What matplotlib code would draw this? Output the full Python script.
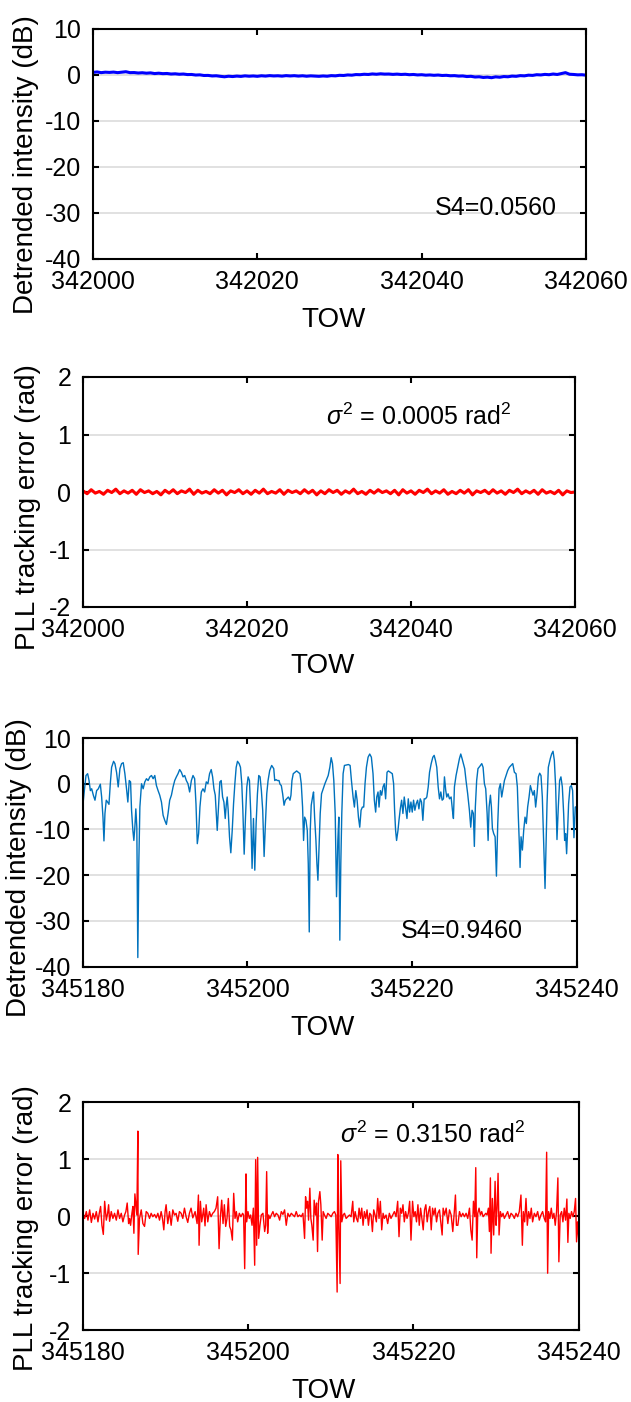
import numpy as np
import matplotlib
matplotlib.use("Agg")
import matplotlib.pyplot as plt

plt.rcParams['font.family'] = ['Liberation Sans', 'DejaVu Sans']
plt.rcParams['mathtext.fontset'] = 'custom'
plt.rcParams['mathtext.rm'] = 'Liberation Sans'
plt.rcParams['mathtext.it'] = 'Liberation Sans:italic'

# ---------------- data ----------------
# Panel 1/2 : quiet period, TOW 342000..342060 (offsets in s)
quiet_base = 342000
quiet_t = [0, 0.5, 1, 1.5, 2, 2.5, 3, 3.5, 4, 4.5, 5, 5.5, 6, 6.5, 7, 7.5, 8, 8.5, 9, 9.5,
           10, 10.5, 11, 11.5, 12, 12.5, 13, 13.5, 14, 14.5, 15, 15.5, 16, 16.5, 17, 17.5, 18, 18.5, 19, 19.5,
           20, 20.5, 21, 21.5, 22, 22.5, 23, 23.5, 24, 24.5, 25, 25.5, 26, 26.5, 27, 27.5, 28, 28.5, 29, 29.5,
           30, 30.5, 31, 31.5, 32, 32.5, 33, 33.5, 34, 34.5, 35, 35.5, 36, 36.5, 37, 37.5, 38, 38.5, 39, 39.5,
           40, 40.5, 41, 41.5, 42, 42.5, 43, 43.5, 44, 44.5, 45, 45.5, 46, 46.5, 47, 47.5, 48, 48.5, 49, 49.5,
           50, 50.5, 51, 51.5, 52, 52.5, 53, 53.5, 54, 54.5, 55, 55.5, 56, 56.5, 57, 57.5, 58, 58.5, 59, 59.5, 60]
quiet_intensity = [0.55, 0.65, 0.5, 0.6, 0.55, 0.62, 0.5, 0.6, 0.7, 0.5,
                   0.52, 0.42, 0.48, 0.38, 0.45, 0.3, 0.38, 0.28, 0.32, 0.2,
                   0.25, 0.15, 0.2, 0.08, 0.1, -0.02, 0.02, -0.12, -0.1, -0.22,
                   -0.18, -0.3, -0.4, -0.28, -0.35, -0.25, -0.32, -0.2, -0.28, -0.22,
                   -0.3, -0.18, -0.25, -0.15, -0.22, -0.18, -0.26, -0.15, -0.22, -0.16,
                   -0.25, -0.18, -0.28, -0.2, -0.25, -0.3, -0.22, -0.28, -0.15, -0.2,
                   -0.08, -0.12, 0.0, -0.05, 0.08, 0.05, 0.15, 0.1, 0.22, 0.15,
                   0.25, 0.18, 0.2, 0.12, 0.18, 0.1, 0.15, 0.05, 0.1, 0.0,
                   0.05, -0.05, 0.0, -0.08, -0.02, -0.12, -0.08, -0.18, -0.15, -0.25,
                   -0.22, -0.35, -0.3, -0.45, -0.4, -0.55, -0.48, -0.6, -0.42, -0.5,
                   -0.35, -0.4, -0.25, -0.3, -0.15, -0.2, -0.05, -0.1, 0.05, 0.0,
                   0.12, 0.05, 0.2, 0.1, 0.3, 0.5, 0.15, 0.1, 0.02, 0.05, -0.05]
quiet_pll = [0.02, -0.03, 0.04, -0.02, 0.01, -0.04, 0.03, -0.01, 0.05, -0.03,
             0.02, -0.02, 0.03, -0.04, 0.04, -0.01, 0.02, -0.03, 0.01, -0.05,
             0.03, -0.02, 0.04, -0.03, 0.02, -0.01, 0.05, -0.04, 0.03, -0.02,
             0.01, -0.03, 0.04, -0.02, 0.03, -0.05, 0.02, -0.01, 0.04, -0.03,
             0.02, -0.04, 0.03, -0.02, 0.05, -0.03, 0.01, -0.02, 0.04, -0.04,
             0.03, -0.01, 0.02, -0.03, 0.04, -0.02, 0.03, -0.05, 0.02, -0.03,
             0.04, -0.01, 0.03, -0.04, 0.02, -0.02, 0.05, -0.03, 0.01, -0.04,
             0.03, -0.02, 0.04, -0.01, 0.02, -0.03, 0.03, -0.05, 0.04, -0.02,
             0.02, -0.04, 0.03, -0.01, 0.05, -0.03, 0.02, -0.02, 0.04, -0.04,
             0.01, -0.03, 0.03, -0.02, 0.04, -0.05, 0.02, -0.01, 0.03, -0.03,
             0.04, -0.02, 0.02, -0.04, 0.03, -0.01, 0.05, -0.03, 0.02, -0.02,
             0.03, -0.04, 0.04, -0.02, 0.01, -0.03, 0.03, -0.05, 0.02, -0.01, 0.0]

# Panel 3 : scintillating intensity, TOW 345180..345240 (offsets in s)
scint_base = 345180
scint_t = [0.00, 0.20, 0.40, 0.60, 0.77, 0.93, 1.09, 1.29, 1.49, 1.69, 1.90, 2.14, 2.30, 2.46, 2.58, 2.70,
           2.86, 3.02, 3.19, 3.35, 3.51, 3.75, 3.91, 4.11, 4.31, 4.52, 4.72, 4.92, 5.12, 5.32, 5.48, 5.65,
           5.81, 5.93, 6.09, 6.21, 6.33, 6.45, 6.57, 6.69, 6.81, 6.94, 7.14, 7.34, 7.54, 7.74, 7.94, 8.15,
           8.35, 8.55, 8.75, 8.95, 9.15, 9.35, 9.56, 9.76, 9.96, 10.16, 10.36, 10.56, 10.77, 10.97, 11.17,
           11.37, 11.57, 11.77, 11.98, 12.18, 12.38, 12.58, 12.78, 12.98, 13.19, 13.39, 13.59, 13.75, 13.91,
           14.07, 14.23, 14.40, 14.60, 14.80, 15.00, 15.20, 15.40, 15.60, 15.77, 15.93, 16.09, 16.21, 16.33,
           16.49, 16.65, 16.81, 16.98, 17.14, 17.30, 17.42, 17.54, 17.66, 17.82, 17.98, 18.15, 18.31, 18.47,
           18.63, 18.79, 18.99, 19.15, 19.31, 19.44, 19.60, 19.76, 19.92, 20.08, 20.24, 20.40, 20.56, 20.73,
           20.89, 21.05, 21.21, 21.37, 21.53, 21.69, 21.85, 22.02, 22.18, 22.34, 22.50, 22.70, 22.94, 23.19,
           23.31, 23.47, 23.63, 23.83, 23.95, 24.11, 24.27, 24.44, 24.60, 24.76, 24.96, 25.16, 25.28, 25.40,
           25.56, 25.77, 25.97, 26.17, 26.37, 26.53, 26.69, 26.81, 26.94, 27.10, 27.26, 27.38, 27.50, 27.62,
           27.74, 27.90, 28.02, 28.15, 28.31, 28.43, 28.55, 28.71, 28.83, 28.99, 29.19, 29.40, 29.60, 29.80,
           30.00, 30.16, 30.32, 30.48, 30.65, 30.81, 30.97, 31.09, 31.21, 31.33, 31.45, 31.61, 31.77, 32.02,
           32.26, 32.46, 32.62, 32.82, 32.98, 33.15, 33.31, 33.47, 33.63, 33.79, 33.95, 34.11, 34.27, 34.44,
           34.64, 34.84, 35.04, 35.24, 35.40, 35.56, 35.69, 35.85, 35.97, 36.13, 36.29, 36.45, 36.61, 36.77,
           36.94, 37.10, 37.34, 37.58, 37.74, 37.86, 37.98, 38.10, 38.27, 38.39, 38.55, 38.71, 38.87, 39.03,
           39.19, 39.36, 39.52, 39.68, 39.84, 40.00, 40.16, 40.32, 40.48, 40.65, 40.81, 40.97, 41.13, 41.29,
           41.45, 41.61, 41.77, 41.94, 42.10, 42.30, 42.50, 42.66, 42.82, 42.98, 43.15, 43.31, 43.47, 43.63,
           43.79, 43.91, 44.07, 44.19, 44.35, 44.52, 44.72, 44.88, 45.00, 45.12, 45.32, 45.52, 45.73, 45.89,
           46.05, 46.21, 46.37, 46.53, 46.73, 46.94, 47.10, 47.26, 47.42, 47.54, 47.66, 47.82, 47.98, 48.20,
           48.44, 48.60, 48.76, 48.92, 49.09, 49.21, 49.33, 49.49, 49.61, 49.73, 49.89, 50.06, 50.22, 50.38,
           50.54, 50.70, 50.86, 51.02, 51.19, 51.39, 51.59, 51.79, 51.99, 52.20, 52.40, 52.60, 52.76, 52.88,
           53.00, 53.09, 53.21, 53.37, 53.53, 53.69, 53.85, 54.01, 54.18, 54.34, 54.50, 54.66, 54.82, 54.98,
           55.15, 55.31, 55.47, 55.63, 55.79, 55.95, 56.12, 56.24, 56.36, 56.52, 56.76, 56.92, 57.09, 57.25,
           57.41, 57.57, 57.73, 57.89, 58.05, 58.22, 58.38, 58.50, 58.62, 58.74, 58.86, 58.98, 59.15, 59.31,
           59.47, 59.63, 59.79, 60.00]
scint_intensity = [-5.1, -1.5, 1.8, 2.2, 0.7, -1.5, -1.1, -2.5, -3.6, -1.5, -1.1, -0.1, -2.9, -7.3, -12.5, -6.5,
                   -3.6, -4.0, -4.5, 0.0, 3.6, 4.9, 4.4, 2.5, -0.7, 3.3, 4.4, 4.6, 2.2, -1.1, -4.0, 0.7,
                   0.4, -5.8, -10.2, -12.4, -9.5, -5.5, -9.5, -38.0, -17.5, -5.1, 0.0, -1.1, 0.4, 1.1, 0.7, 1.5,
                   1.8, 1.1, 1.8, -0.4, -1.5, -2.5, -4.0, -6.9, -8.0, -8.9, -6.5, -3.6, -2.5, -0.7, 0.7,
                   1.5, 2.2, 3.1, 2.5, 1.5, 1.8, 0.7, 0.0, -1.8, 0.7, 1.8, 1.1, -4.4, -13.1,
                   -10.9, -5.1, -1.8, -1.1, -1.8, 0.4, 0.0, 2.2, 3.1, 1.5, -1.1, -2.5, -6.5, -10.2,
                   -5.1, 0.4, 0.7, -2.9, -4.0, -7.6, -4.7, -2.9, -5.8, -11.6, -15.1, -10.2, -4.4, 0.0,
                   3.6, 4.9, 4.4, 3.6, 0.0, -5.8, -15.4, -7.3, -0.7, 1.5, 0.7, -6.5, -18.5, -7.6,
                   -18.9, -8.7, -2.2, 1.8, 1.5, -1.5, -5.8, -15.9, -8.7, -2.2, 0.7, 2.9, 4.0, 3.3,
                   0.7, 0.9, 0.7, 0.7, -0.1, -0.4, -2.2, -4.7, -3.6, -3.3, -2.9, -3.6, -2.5, 0.7,
                   2.2, 2.5, 2.8, 2.5, 2.2, 0.0, -5.1, -12.4, -7.3, -8.0, -10.2, -17.5, -32.4, -10.2,
                   -4.7, -2.9, -1.8, -7.3, -12.4, -17.5, -21.1, -12.4, -6.5, -2.2, -1.1, 0.0, 0.9, 1.8,
                   3.6, 5.7, 4.4, 0.7, -6.5, -24.7, -12.4, -7.3, -34.2, -17.5, -6.5, 2.2, 4.0, 4.1,
                   4.2, 4.0, 0.7, -2.9, -5.1, -1.5, -3.6, -7.3, -9.5, -5.8, -5.1, -5.1, 0.0, 3.6,
                   5.8, 6.5, 5.8, 2.2, -3.6, -6.2, -2.9, -1.8, -5.1, -1.5, -2.5, -0.7, 0.0, -3.3,
                   2.5, 2.8, 2.5, 2.2, 0.0, -5.8, -10.2, -12.4, -10.2, -8.0, -5.5, -3.6, -6.5, -2.9,
                   -5.1, -7.6, -3.3, -6.2, -4.0, -6.2, -3.6, -5.8, -4.4, -3.6, -5.5, -3.3, -4.0, -8.0,
                   -3.3, -3.3, -2.9, -0.7, 2.5, 4.4, 5.8, 6.2, 5.1, 3.6, -0.7, -3.3, -1.8, -3.6,
                   -3.3, 1.5, -1.5, -2.9, -2.2, -3.3, -2.9, -5.8, -7.6, -0.7, 1.8, 3.6, 5.5, 6.5,
                   5.5, 4.4, 3.3, 0.7, -2.2, -5.8, -9.5, -5.8, -6.5, -13.7, -5.1, 0.7, 3.3, 3.8,
                   4.4, 3.6, 0.0, -1.1, -6.5, -12.4, -5.1, -2.5, -5.1, -9.8, -10.9, -11.6, -20.2, -8.7,
                   -1.1, 0.0, -2.9, -1.1, 0.7, 1.8, 2.9, 3.6, 4.0, 4.4, 2.5, 2.2, -0.7, -7.3,
                   -13.1, -18.3, -11.6, -14.5, -10.2, -7.3, -8.7, -5.1, -2.9, -0.4, -1.5, -2.5, -1.5, -5.1,
                   -2.2, 1.5, 2.3, 1.8, -2.9, -12.4, -22.9, -13.1, -4.4, 3.6, 5.5, 6.5, 7.1, 5.1,
                   -0.7, -12.2, -5.1, 0.7, 1.5, -0.7, -6.5, -12.4, -10.9, -15.3, -10.2, -4.4, -0.7, -0.4,
                   -1.5, -11.8, -5.1, -5.0]

# Panel 4 : PLL tracking error during scintillation (offsets in s)
pll_t = [0.00, 0.20, 0.40, 0.60, 0.81, 1.01, 1.21, 1.41, 1.61, 1.81, 1.97, 2.13, 2.29, 2.46, 2.62, 2.82,
         2.98, 3.10, 3.22, 3.42, 3.62, 3.82, 4.03, 4.23, 4.43, 4.63, 4.83, 5.03, 5.19, 5.35, 5.52, 5.64,
         5.76, 5.92, 6.04, 6.16, 6.28, 6.40, 6.52, 6.64, 6.68, 6.84, 7.05, 7.25, 7.45, 7.65, 7.85, 8.05,
         8.25, 8.45, 8.66, 8.86, 9.06, 9.26, 9.46, 9.62, 9.78, 9.94, 10.06, 10.26, 10.47, 10.67, 10.87,
         11.07, 11.27, 11.47, 11.67, 11.88, 12.08, 12.28, 12.48, 12.68, 12.88, 13.08, 13.29, 13.57, 13.81,
         13.97, 14.05, 14.21, 14.37, 14.61, 14.77, 14.90, 15.10, 15.30, 15.50, 15.70, 15.90, 16.10, 16.30,
         16.47, 16.63, 16.79, 16.95, 17.11, 17.27, 17.43, 17.59, 17.75, 17.91, 18.08, 18.24, 18.40, 18.56,
         18.72, 18.92, 19.12, 19.32, 19.44, 19.57, 19.73, 19.81, 19.97, 20.13, 20.29, 20.46, 20.62, 20.78,
         20.90, 21.02, 21.14, 21.26, 21.42, 21.58, 21.78, 21.99, 22.11, 22.23, 22.35, 22.47, 22.63, 22.79,
         22.99, 23.19, 23.39, 23.60, 23.80, 24.00, 24.20, 24.40, 24.60, 24.80, 25.00, 25.21, 25.41, 25.61,
         25.81, 26.01, 26.21, 26.41, 26.62, 26.82, 26.94, 27.06, 27.18, 27.30, 27.46, 27.58, 27.70, 27.86,
         27.98, 28.14, 28.27, 28.39, 28.51, 28.67, 28.79, 28.95, 29.07, 29.23, 29.43, 29.63, 29.84, 30.04,
         30.24, 30.44, 30.60, 30.76, 30.84, 30.96, 31.12, 31.20, 31.33, 31.49, 31.65, 31.85, 32.05, 32.25,
         32.45, 32.65, 32.77, 32.94, 33.10, 33.26, 33.42, 33.58, 33.74, 33.90, 34.06, 34.22, 34.38, 34.55,
         34.71, 34.87, 35.03, 35.19, 35.35, 35.51, 35.67, 35.83, 35.99, 36.16, 36.32, 36.48, 36.68, 36.88,
         37.08, 37.28, 37.49, 37.69, 37.89, 38.09, 38.25, 38.41, 38.57, 38.73, 38.89, 39.05, 39.22, 39.38,
         39.54, 39.70, 39.89, 40.05, 40.21, 40.37, 40.54, 40.70, 40.86, 41.02, 41.18, 41.34, 41.50, 41.66,
         41.82, 41.98, 42.15, 42.31, 42.47, 42.63, 42.79, 42.95, 43.15, 43.35, 43.47, 43.59, 43.76, 43.96,
         44.16, 44.36, 44.56, 44.76, 44.96, 45.08, 45.20, 45.37, 45.57, 45.77, 45.97, 46.17, 46.37, 46.57,
         46.78, 46.94, 47.10, 47.26, 47.42, 47.54, 47.66, 47.78, 47.94, 48.10, 48.26, 48.43, 48.59, 48.75,
         48.91, 49.07, 49.19, 49.31, 49.39, 49.55, 49.71, 49.88, 50.00, 50.12, 50.24, 50.36, 50.52, 50.68,
         50.84, 51.00, 51.20, 51.40, 51.61, 51.81, 52.01, 52.21, 52.41, 52.61, 52.81, 53.01, 53.18, 53.30,
         53.46, 53.62, 53.78, 53.94, 54.10, 54.26, 54.42, 54.63, 54.83, 55.03, 55.23, 55.43, 55.63, 55.83,
         55.99, 56.12, 56.24, 56.36, 56.52, 56.68, 56.84, 57.00, 57.16, 57.32, 57.48, 57.60, 57.76, 57.93,
         58.09, 58.25, 58.41, 58.57, 58.69, 58.81, 58.97, 59.13, 59.30, 59.46, 59.62, 59.74, 59.86, 60.00]
pll_error = [0.05, -0.04, 0.08, -0.07, 0.11, -0.11, 0.05, -0.05, 0.08, -0.10, 0.05, 0.17, -0.16, -0.32, 0.26, -0.07,
             0.05, 0.20, -0.09, 0.08, -0.04, 0.05, -0.07, 0.11, -0.04, 0.05, -0.10, 0.02, 0.08, 0.23, -0.13, -0.04,
             -0.16, 0.05, 0.17, -0.30, 0.39, 0.20, 0.02, 1.49, -0.67, -0.04, 0.11, -0.13, -0.18, 0.08, 0.05, -0.04,
             0.05, -0.01, 0.03, -0.03, 0.05, -0.07, 0.08, -0.04, -0.24, 0.08, 0.20, -0.13, 0.08, -0.16, 0.11,
             0.02, 0.05, -0.09, 0.08, 0.05, -0.04, 0.14, -0.01, -0.11, 0.05, 0.14, -0.03, 0.08, -0.13,
             0.37, -0.51, 0.26, -0.10, 0.14, -0.17, 0.20, -0.10, 0.08, -0.01, 0.05, 0.08, 0.14, 0.34,
             -0.57, -0.01, 0.28, -0.13, 0.20, -0.18, -0.04, 0.31, -0.18, -0.24, -0.42, 0.40, -0.04, 0.08,
             -0.10, 0.05, -0.01, 0.05, 0.02, -0.92, 0.74, -0.10, 0.08, -0.04, 0.02, -0.16, 0.14, -0.86,
             0.99, -0.51, 1.03, -0.39, -0.16, 0.02, 0.05, -0.27, -0.16, 0.78, -0.30, 0.02, -0.04, 0.02,
             0.08, -0.01, 0.05, 0.02, -0.07, 0.08, 0.03, 0.11, -0.16, 0.05, -0.01, 0.05, 0.02, -0.01,
             0.08, -0.01, 0.02, -0.01, 0.05, -0.39, 0.34, 0.14, 0.26, -0.07, 0.49, -0.04, -0.16, -0.42,
             0.28, 0.02, 0.23, -0.62, 0.26, 0.43, 0.20, -0.42, 0.08, 0.02, -0.04, 0.05, 0.02, -0.01,
             0.05, 0.08, 0.02, -1.33, 1.08, -0.16, -1.18, 0.97, -0.10, 0.02, 0.05, -0.04, -0.01, 0.02,
             -0.01, 0.26, -0.10, 0.08, -0.04, -0.10, 0.14, -0.04, 0.14, -0.16, 0.08, -0.04, 0.11, -0.16,
             0.05, 0.02, -0.27, 0.11, 0.02, -0.10, 0.31, -0.04, 0.26, -0.24, 0.05, -0.04, 0.02, -0.13,
             0.05, -0.04, 0.02, 0.08, -0.01, 0.26, -0.36, 0.14, 0.05, 0.20, -0.10, 0.08, -0.04, 0.05,
             0.26, -0.42, 0.26, -0.01, 0.08, -0.10, 0.20, -0.16, 0.14, -0.04, -0.24, 0.11, 0.20, -0.10,
             0.08, 0.17, -0.24, 0.14, 0.02, 0.14, -0.10, 0.05, 0.11, -0.16, -0.33, 0.14, 0.02, 0.14,
             -0.13, 0.11, 0.02, -0.27, 0.11, 0.37, -0.16, -0.16, 0.08, -0.01, 0.05, -0.01, 0.05, -0.04,
             0.14, -0.24, -0.42, 0.26, -0.01, 0.85, -0.73, 0.05, 0.14, 0.02, 0.08, -0.01, 0.02, 0.05,
             0.02, 0.14, -0.27, 0.67, -0.65, 0.31, -0.33, 0.61, -0.16, 0.14, 0.75, -0.33, 0.08, -0.01,
             0.05, -0.04, 0.02, 0.08, -0.04, 0.05, 0.02, -0.04, 0.05, -0.01, 0.08, 0.37, -0.51, 0.08,
             -0.10, 0.31, -0.16, 0.08, -0.04, 0.14, -0.10, 0.05, -0.01, 0.08, -0.07, 0.02, 0.08, -0.04,
             -0.10, 1.12, -1.00, 0.08, -0.04, 0.14, -0.04, 0.05, -0.16, 0.08, 0.67, -0.80, 0.02, 0.08,
             -0.10, 0.14, -0.07, 0.30, -0.46, 0.05, -0.04, 0.08, -0.01, 0.08, 0.31, -0.45, -0.10, -0.40]

x_ticks = [0, 20, 40, 60]
quiet_xlabels = ['342000', '342020', '342040', '342060']
scint_xlabels = ['345180', '345200', '345220', '345240']
db_ticks = [-40, -30, -20, -10, 0, 10]
rad_ticks = [-2, -1, 0, 1, 2]
s4_quiet = 'S4=0.0560'
s4_scint = 'S4=0.9460'
var_quiet = r'$\sigma^2$ = 0.0005 rad$^2$'
var_scint = r'$\sigma^2$ = 0.3150 rad$^2$'

# ---------------- figure ----------------
W, H = 631, 1402
fig = plt.figure(figsize=(W / 100, H / 100), dpi=100)


def rect(l, r, t, b):
    return [l / W, 1 - b / H, (r - l) / W, (b - t) / H]


TICK_FS = 18
LABEL_FS = 20
GRID_C = '#d9d9d9'


def style(ax, xbase, xlabels, yticks, ylim, ylabel, ylab_xy, xlab_xy):
    ax.set_xlim(xbase + 0, xbase + 60)
    ax.set_ylim(*ylim)
    ax.set_xticks([xbase + v for v in x_ticks])
    ax.set_xticklabels(xlabels)
    ax.set_yticks(yticks)
    ax.set_yticklabels([str(v) for v in yticks])
    ax.tick_params(direction='in', length=4.5, width=1.5, top=True, right=True,
                   labelsize=TICK_FS, color='black')
    ax.tick_params(axis='x', pad=8)
    ax.tick_params(axis='y', pad=8.5)
    for s in ax.spines.values():
        s.set_linewidth(1.5)
        s.set_color('black')
    ax.yaxis.grid(True, color=GRID_C, linewidth=1.1)
    ax.xaxis.grid(False)
    ax.set_axisbelow(True)
    ax.set_ylabel(ylabel, fontsize=LABEL_FS)
    ax.yaxis.set_label_coords(*ylab_xy)
    ax.yaxis.label.set_va('center')
    ax.set_xlabel('TOW', fontsize=LABEL_FS)
    ax.xaxis.set_label_coords(*xlab_xy)
    ax.xaxis.label.set_va('center')


qt = np.array(quiet_t) + quiet_base
st = np.array(scint_t) + scint_base
pt = np.array(pll_t) + scint_base

ax1 = fig.add_axes(rect(93, 586, 29, 258.7))
ax1.plot(qt, quiet_intensity, color='#0000ff', lw=2.2)
style(ax1, quiet_base, quiet_xlabels, db_ticks, (-40, 10), 'Detrended intensity (dB)',
      (-0.136, 0.408), (0.487, -0.267))
ax1.text(quiet_base + 49, -29, s4_quiet, fontsize=TICK_FS, ha='center', va='center')

ax2 = fig.add_axes(rect(83, 575, 377, 607))
ax2.plot(qt, quiet_pll, color='#ff0000', lw=2.2)
style(ax2, quiet_base, quiet_xlabels, rad_ticks, (-2, 2), 'PLL tracking error (rad)',
      (-0.112, 0.433), (0.486, -0.257))
ax2.text(quiet_base + 41, 1.3, var_quiet, fontsize=TICK_FS, ha='center', va='center')

ax3 = fig.add_axes(rect(82.7, 577, 738, 966.7))
ax3.plot(st, scint_intensity, color='#0072bd', lw=1.0)
style(ax3, scint_base, scint_xlabels, db_ticks, (-40, 10), 'Detrended intensity (dB)',
      (-0.1285, 0.432), (0.486, -0.266))
ax3.text(scint_base + 46, -32.2, s4_scint, fontsize=TICK_FS, ha='center', va='center')

ax4 = fig.add_axes(rect(83, 578.7, 1102, 1330.3))
ax4.plot(pt, pll_error, color='#ff0000', lw=1.0)
style(ax4, scint_base, scint_xlabels, rad_ticks, (-2, 2), 'PLL tracking error (rad)',
      (-0.115, 0.448), (0.486, -0.266))
ax4.text(scint_base + 42.4, 1.42, var_scint, fontsize=TICK_FS, ha='center', va='center')

fig.savefig('out.png', dpi=100)
